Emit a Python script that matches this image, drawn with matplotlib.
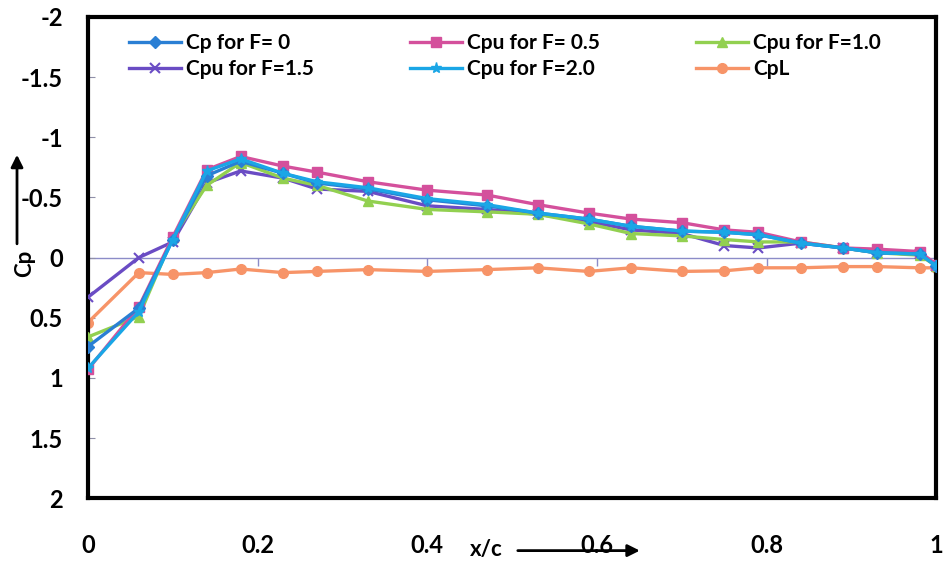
import matplotlib
matplotlib.use("Agg")
import matplotlib.pyplot as plt

plt.rcParams['font.family'] = ['Lato', 'DejaVu Sans']
plt.rcParams['font.weight'] = 'bold'

# x/c stations
xc = [0, 0.06, 0.1, 0.14, 0.18, 0.23, 0.27, 0.33, 0.4, 0.47, 0.53,
      0.59, 0.64, 0.7, 0.75, 0.79, 0.84, 0.89, 0.93, 0.98, 1.0]

cp_f0 = [0.74, 0.42, -0.15, -0.68, -0.80, -0.70, -0.62, -0.57, -0.48, -0.43, -0.37,
         -0.32, -0.26, -0.22, -0.21, -0.19, -0.12, -0.08, -0.04, -0.03, 0.07]
cpu_f05 = [0.93, 0.41, -0.17, -0.73, -0.84, -0.76, -0.71, -0.63, -0.56, -0.52, -0.44,
           -0.37, -0.32, -0.29, -0.23, -0.21, -0.13, -0.08, -0.07, -0.05, 0.06]
cpu_f10 = [0.66, 0.49, -0.17, -0.60, -0.79, -0.66, -0.60, -0.47, -0.40, -0.38, -0.36,
           -0.28, -0.20, -0.18, -0.15, -0.13, -0.13, -0.08, -0.04, -0.02, 0.07]
cpu_f15 = [0.33, 0.0, -0.13, -0.62, -0.72, -0.66, -0.57, -0.55, -0.43, -0.40, -0.36,
           -0.30, -0.23, -0.20, -0.10, -0.08, -0.12, -0.08, -0.04, -0.03, 0.07]
cpu_f20 = [0.92, 0.45, -0.15, -0.72, -0.82, -0.70, -0.63, -0.58, -0.49, -0.44, -0.37,
           -0.32, -0.26, -0.22, -0.21, -0.19, -0.12, -0.08, -0.04, -0.03, 0.07]
cpl = [0.54, 0.125, 0.14, 0.125, 0.095, 0.125, 0.115, 0.10, 0.115, 0.10, 0.085,
       0.115, 0.085, 0.115, 0.11, 0.085, 0.085, 0.075, 0.075, 0.085, 0.085]

fig = plt.figure(figsize=(9.45, 5.63), dpi=100)
ax = fig.add_axes([0.093, 0.115, 0.898, 0.855])

lw = 2.4
ms = 7
ax.plot(xc, cpl, color='#f79468', marker='o', lw=lw, ms=ms, label='CpL', zorder=2)
ax.plot(xc, cpu_f15, color='#6a4cc4', marker='x', lw=lw, ms=ms, mew=1.5, label='Cpu for F=1.5', zorder=3)
ax.plot(xc, cpu_f10, color='#92d050', marker='^', lw=lw, ms=ms, label='Cpu for F=1.0', zorder=3)
ax.plot(xc, cpu_f05, color='#d4509c', marker='s', lw=lw, ms=ms, label='Cpu for F= 0.5', zorder=4)
ax.plot(xc, cp_f0, color='#2a7fd4', marker='D', lw=lw, ms=ms - 1, label='Cp for F= 0', zorder=5)
ax.plot(xc, cpu_f20, color='#1aa6e6', marker='*', lw=lw, ms=ms + 1, label='Cpu for F=2.0', zorder=6)

ax.set_xlim(0, 1)
ax.set_ylim(2, -2)
ax.set_xticks([0, 0.2, 0.4, 0.6, 0.8, 1])
ax.set_xticklabels(['0', '0.2', '0.4', '0.6', '0.8', '1'])
ax.set_yticks([-2, -1.5, -1, -0.5, 0, 0.5, 1, 1.5, 2])
ax.set_yticklabels(['-2', '-1.5', '-1', '-0.5', '0', '0.5', '1', '1.5', '2'])
ax.tick_params(axis='x', length=0, pad=26, labelsize=17)
ax.tick_params(axis='y', direction='in', length=5, color='#9090a8', pad=18, labelsize=17)
for s in ax.spines.values():
    s.set_linewidth(3)
    s.set_color('black')

# horizontal axis line crossing at Cp = 0
sec = ax.secondary_xaxis(0.5)
sec.set_xticks([0, 0.2, 0.4, 0.6, 0.8, 1])
sec.set_xticklabels([])
sec.xaxis.set_ticks_position('bottom')
sec.tick_params(axis='x', direction='out', length=6, width=1, color='#8c8cc8',
                labelbottom=False, labeltop=False)
for s in sec.spines.values():
    s.set_color('#8c8cc8')
    s.set_linewidth(1)

handles, labels = ax.get_legend_handles_labels()
order = [4, 3, 2, 1, 5, 0]
h = [handles[i] for i in order]
l = [labels[i] for i in order]
# legend fills column-wise, so pass entries in column order
col_major = [0, 3, 1, 4, 2, 5]
leg = ax.legend([h[i] for i in col_major], [l[i] for i in col_major], ncol=3,
                loc='upper left', bbox_to_anchor=(0.026, 1.005), frameon=False,
                fontsize=15, handlelength=2.5, columnspacing=4.6, labelspacing=0.3,
                handletextpad=0.25)

# axis titles with arrows
fig.text(0.026, 0.533, 'Cp', rotation=90, ha='center', va='center', fontsize=16, fontweight='bold')
fig.add_artist(matplotlib.patches.FancyArrowPatch((0.018, 0.562), (0.018, 0.730),
               transform=fig.transFigure, arrowstyle='-|>', mutation_scale=18, lw=2, color='black'))
fig.text(0.515, 0.024, 'x/c', ha='center', va='center', fontsize=16, fontweight='bold')
fig.add_artist(matplotlib.patches.FancyArrowPatch((0.545, 0.022), (0.680, 0.022),
               transform=fig.transFigure, arrowstyle='-|>', mutation_scale=18, lw=2, color='black'))

fig.savefig('out.png', dpi=100)
